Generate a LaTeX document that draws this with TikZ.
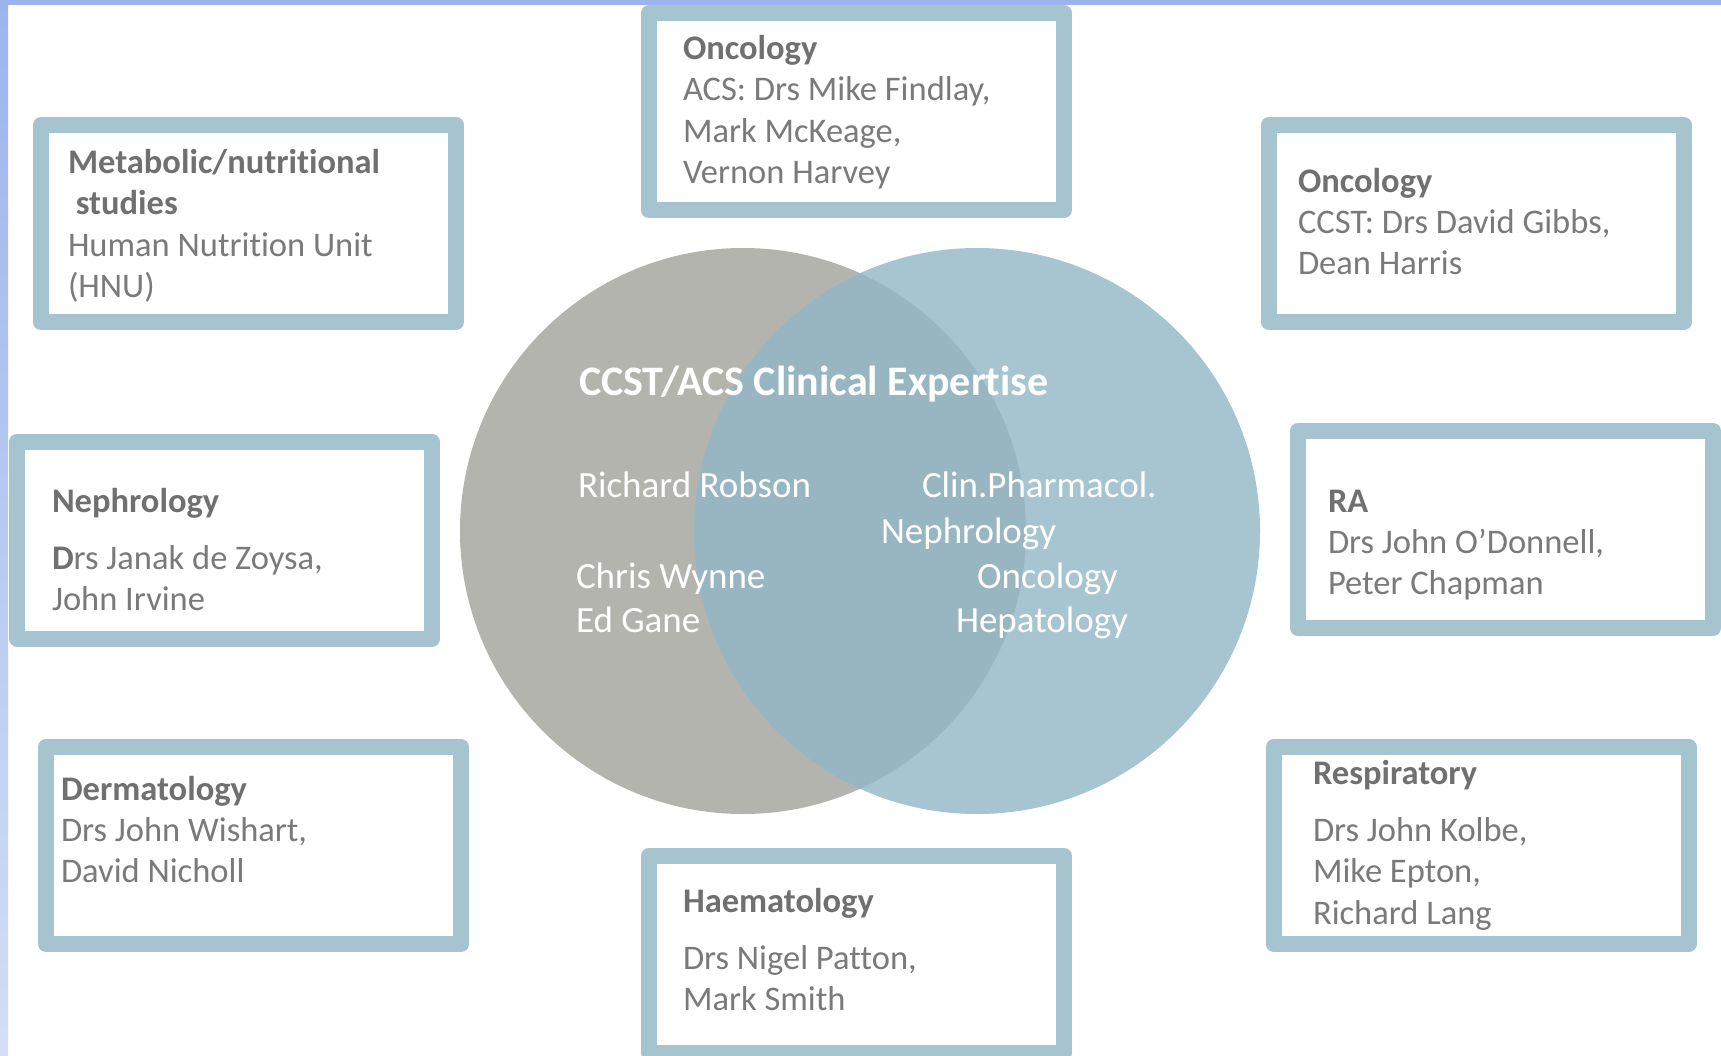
\documentclass[tikz,border=0pt]{standalone}
\usepackage{fontspec}
\setmainfont{Carlito}[Ligatures={NoCommon,NoContextual}]
\definecolor{bordc}{HTML}{A6C3D0}
\definecolor{grayc}{HTML}{B3B4AE}
\definecolor{bluec}{HTML}{A7C4D1}
\definecolor{overc}{HTML}{98B5C2}
\definecolor{textc}{HTML}{7A7A7A}
\definecolor{headc}{HTML}{707070}
\definecolor{stripc}{HTML}{9BB5EC}
\definecolor{stripl}{HTML}{D3DEF6}
\tikzset{
  boxc/.style={draw=bordc, line width=16pt, line join=round, fill=white,
    minimum width=415pt, minimum height=197pt, inner sep=0pt, outer sep=0pt},
  txt/.style={anchor=base west, inner sep=0pt, outer sep=0pt, text=textc,
    font=\fontsize{34.5}{41.4}\selectfont},
  venn/.style={anchor=base west, inner sep=0pt, outer sep=0pt, text=white,
    font=\fontsize{37}{44}\selectfont}
}
\newcommand{\hdr}[1]{\textcolor{headc}{\bfseries #1}}
\begin{document}
\begin{tikzpicture}[x=1pt,y=-1pt]
\useasboundingbox (0,0) rectangle (1721,1055);
\fill[white] (0,0) rectangle (1721,1055);
% strips
\shade[top color=stripc, bottom color=stripl] (0,0) rectangle (8,1055);
\fill[stripc] (0,0) rectangle (1721,5);
% circles
\node[circle, fill=grayc, minimum size=566pt, inner sep=0pt] (cl) at (743,531) {};
\node[circle, fill=bluec, minimum size=566pt, inner sep=0pt] (cr) at (977,531) {};
\begin{scope}
  \clip (743,531) circle[radius=283pt];
  \fill[overc] (977,531) circle[radius=283pt];
\end{scope}
% boxes
\node[boxc] (bonc1) at (856.5,111.5) {};
\node[boxc] (bmeta) at (248.5,223.5) {};
\node[boxc] (bonc2) at (1476.5,223.5) {};
\node[boxc] (bneph) at (224.5,540) {};
\node[boxc] (bra) at (1505.5,529.5) {};
\node[boxc] (bderm) at (253.5,845.5) {};
\node[boxc] (bhaem) at (856.5,954.5) {};
\node[boxc] (bresp) at (1481,845.5) {};
% box texts
\node[txt] (tonc1) at (683,59.5) {\vtop{\hbox{\hdr{Oncology}}\hbox{ACS: Drs Mike Findlay,}\hbox{Mark McKeage,}\hbox{Vernon Harvey}}};
\node[txt] (tmeta) at (68,173.5) {\vtop{\hbox{\hdr{Metabolic/nutrit\kern0pt ional}}\hbox{\hdr{\ studies}}\hbox{Human Nutrit\kern0pt ion Unit}\hbox{(HNU)}}};
\node[txt] (tonc2) at (1298,192) {\vtop{\hbox{\hdr{Oncology}}\hbox{CCST: Drs David Gibbs,}\hbox{Dean Harris}}};
\node[txt] (tneph) at (52,512) {\vtop{\hbox{\hdr{Nephrology}}\vskip 16pt\hbox{\hdr{D}rs Janak de Zoysa,}\hbox{John Irvine}}};
\node[txt] (tra) at (1328,512) {\vtop{\hbox{\hdr{RA}}\hbox{Drs John O’Donnell,}\hbox{Peter Chapman}}};
\node[txt] (tderm) at (61,800) {\vtop{\hbox{\hdr{Dermatology}}\hbox{Drs John Wishart,}\hbox{David Nicholl}}};
\node[txt] (thaem) at (683,912) {\vtop{\hbox{\hdr{Haematology}}\vskip 16pt\hbox{Drs Nigel Patt\kern0pt on,}\hbox{Mark Smith}}};
\node[txt] (tresp) at (1313,784.5) {\vtop{\hbox{\hdr{Respiratory}}\vskip 15.5pt\hbox{Drs John Kolbe,}\hbox{Mike Epton,}\hbox{Richard Lang}}};
% venn texts
\node[venn, font=\fontsize{42}{50}\selectfont\bfseries] (ttl) at (579,395) {CCST/ACS Clinical Expert\kern0pt ise};
\node[venn] (vrr) at (578,497) {Richard Robson};
\node[venn] (vcp) at (922,497) {Clin.Pharmacol.};
\node[venn] (vne) at (881,543) {Nephrology};
\node[venn] (vcw) at (576,588) {Chris Wynne};
\node[venn] (veg) at (576,632) {Ed Gane};
\node[venn] (von) at (977,588) {Oncology};
\node[venn] (vhe) at (956,632) {Hepatology};
\end{tikzpicture}
\end{document}
